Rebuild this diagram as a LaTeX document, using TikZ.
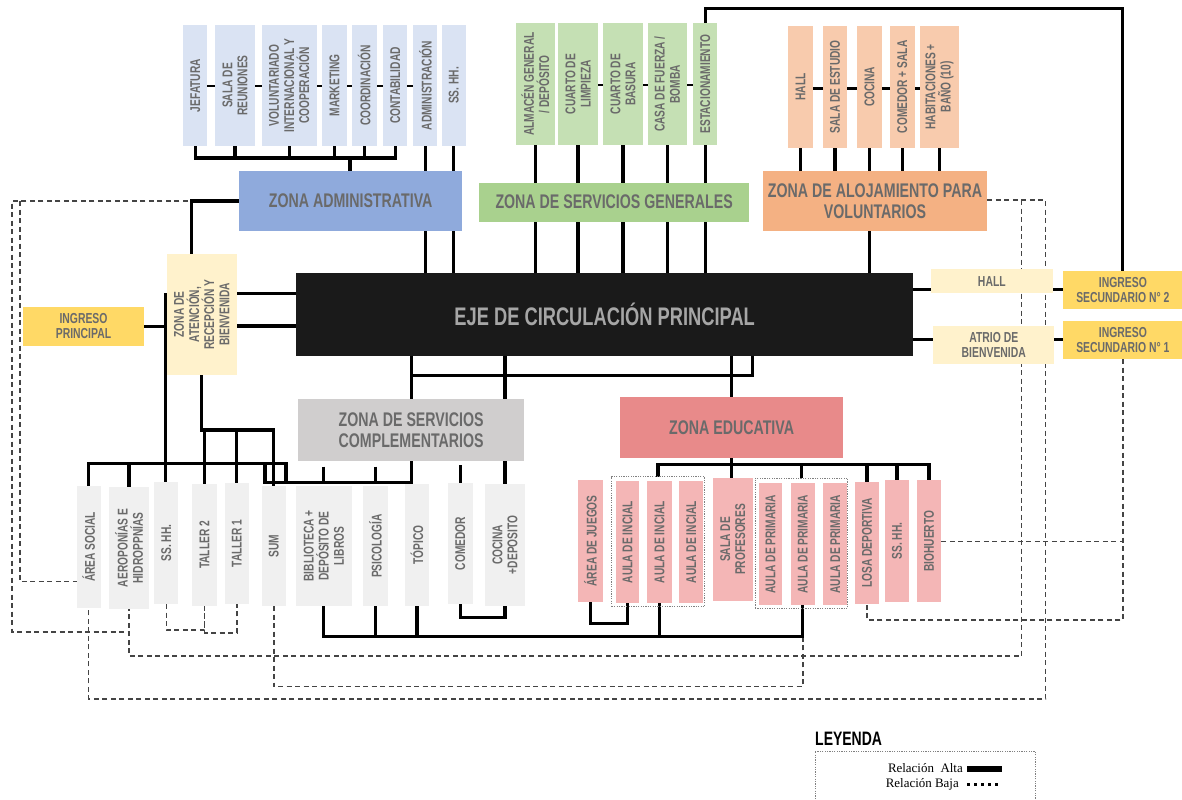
\documentclass[tikz,border=0pt]{standalone}
\usepackage{fontspec}
\setmainfont{Liberation Serif}
\newfontfamily\cond{Liberation Sans}[FakeStretch=0.72]
\usetikzlibrary{backgrounds}
\definecolor{admL}{HTML}{DAE3F3}
\definecolor{admZ}{HTML}{8FAADC}
\definecolor{srvL}{HTML}{C5E0B4}
\definecolor{srvZ}{HTML}{A9D18E}
\definecolor{aloL}{HTML}{F8CBAD}
\definecolor{aloZ}{HTML}{F4B183}
\definecolor{yelL}{HTML}{FFF2CC}
\definecolor{yelD}{HTML}{FFD966}
\definecolor{grZ}{HTML}{D0CECE}
\definecolor{grL}{HTML}{F0F0F0}
\definecolor{eduZ}{HTML}{E88A8A}
\definecolor{eduL}{HTML}{F4B6B6}
\definecolor{ejeC}{HTML}{1A1A1A}
\definecolor{ejeT}{HTML}{A6A6A6}
\definecolor{txtG}{HTML}{6A6A6A}
\definecolor{dashG}{HTML}{444444}
\newcommand\mkH[7]{%
 \pgfmathsetmacro\mkcx{(#3+#5)/2}%
 \pgfmathsetmacro\mkcy{(#4+#6)/2}%
 \pgfmathsetmacro\mkw{#5-#3}%
 \pgfmathsetmacro\mkh{#6-#4}%
 \node[#2,minimum width=\mkw bp,minimum height=\mkh bp] (#1) at (\mkcx,\mkcy) {#7};}
\newcommand\mkR[7]{%
 \pgfmathsetmacro\mkcx{(#3+#5)/2}%
 \pgfmathsetmacro\mkcy{(#4+#6)/2}%
 \pgfmathsetmacro\mkw{#5-#3}%
 \pgfmathsetmacro\mkh{#6-#4}%
 \node[#2,rotate=90,minimum width=\mkh bp,minimum height=\mkw bp] (#1) at (\mkcx,\mkcy) {#7};}
\tikzset{
 lab/.style={font=\cond\bfseries\fontsize{14.2}{15.2}\selectfont,text=txtG,align=center,inner sep=0pt,outer sep=0pt},
 zlab/.style={font=\cond\bfseries\fontsize{19.8}{21}\selectfont,text=txtG,align=center,inner sep=0pt,outer sep=0pt},
 mlab/.style={font=\cond\bfseries\fontsize{14.5}{15.5}\selectfont,text=txtG,align=center,inner sep=0pt,outer sep=0pt},
 rel/.style={line width=3.2bp,draw=black},
 tie/.style={line width=2.6bp,draw=black},
 low/.style={line width=1.3bp,draw=dashG,dash pattern=on 5bp off 3.5bp},
 grp/.style={draw=gray,line width=0.9bp,dash pattern=on 1.2bp off 1.2bp,inner sep=0pt,outer sep=0pt}
}
\begin{document}
\begin{tikzpicture}[x=1bp,y=-1bp]
\useasboundingbox (0,0) rectangle (1182,800);
% ---------- admin
\mkR{jef}{lab,fill=admL}{183.3}{25}{207.3}{146}{JEFATURA}
\mkR{sre}{lab,fill=admL}{215}{25}{255}{146}{SALA DE\\REUNIONES}
\mkR{vol}{lab,fill=admL}{261.7}{25}{316.7}{146}{VOLUNTARIADO\\INTERNACIONAL Y\\COOPERACIÓN}
\mkR{mkt}{lab,fill=admL}{322.3}{25}{346.7}{146}{MARKETING}
\mkR{coo}{lab,fill=admL}{351.7}{25}{376.7}{146}{COORDINACIÓN}
\mkR{con}{lab,fill=admL}{383.3}{25}{407.3}{146}{CONTABILIDAD}
\mkR{adm}{lab,fill=admL}{413.3}{25}{437.3}{146}{ADMINISTRACIÓN}
\mkR{ssa}{lab,fill=admL}{441.7}{25}{465.7}{146}{SS. HH.}
\mkH{zadm}{zlab,fill=admZ}{239}{171}{462.3}{231}{ZONA ADMINISTRATIVA}
% ---------- services
\mkR{alm}{lab,fill=srvL}{515.7}{23.3}{555}{145}{ALMACÉN GENERAL\\/ DEPÓSITO}
\mkR{lim}{lab,fill=srvL}{558.3}{23.3}{597.7}{145}{CUARTO DE\\LIMPIEZA}
\mkR{bas}{lab,fill=srvL}{603.3}{23.3}{642.7}{145}{CUARTO DE\\BASURA}
\mkR{fue}{lab,fill=srvL}{647.7}{23.3}{686.7}{145}{CASA DE FUERZA /\\BOMBA}
\mkR{est}{lab,fill=srvL}{693.3}{23.3}{717.3}{145}{ESTACIONAMIENTO}
\mkH{zsrv}{zlab,fill=srvZ}{479}{182.7}{749.3}{221.7}{ZONA DE SERVICIOS GENERALES}
% ---------- alojamiento
\mkR{hal}{lab,fill=aloL}{788.3}{26}{812.7}{147.7}{HALL}
\mkR{ses}{lab,fill=aloL}{822.7}{26}{847.3}{147.7}{SALA DE ESTUDIO}
\mkR{coc}{lab,fill=aloL}{857.3}{26}{881.7}{147.7}{COCINA}
\mkR{com}{lab,fill=aloL}{890}{26}{914.7}{147.7}{COMEDOR + SALA}
\mkR{hab}{lab,fill=aloL}{920}{26}{959}{147.7}{HABITACIONES +\\BAÑO (10)}
\mkH{zalo}{zlab,fill=aloZ}{762.7}{171}{987.3}{231}{ZONA DE ALOJAMIENTO PARA\\VOLUNTARIOS}
% ---------- middle
\mkR{att}{lab,fill=yelL}{166.7}{254}{236.7}{375}{ZONA DE\\ATENCIÓN,\\RECEPCIÓN Y\\BIENVENIDA}
\mkH{ingp}{mlab,fill=yelD}{22.7}{306.7}{144.3}{345.7}{INGRESO\\PRINCIPAL}
\mkH{eje}{zlab,fill=ejeC,text=ejeT,font=\cond\bfseries\fontsize{25.5}{27}\selectfont}{296}{273.3}{913.3}{356}{EJE DE CIRCULACIÓN PRINCIPAL}
\mkH{hall}{mlab,fill=yelL}{931}{269.3}{1052.7}{293.3}{HALL}
\mkH{atr}{mlab,fill=yelL}{933.3}{325.7}{1054.3}{364.3}{ATRIO DE\\BIENVENIDA}
\mkH{ing2}{mlab,fill=yelD}{1062.7}{270.7}{1183}{309.3}{INGRESO\\SECUNDARIO N° 2}
\mkH{ing1}{mlab,fill=yelD}{1062.7}{320.7}{1183}{359}{INGRESO\\SECUNDARIO N° 1}
\mkH{zcom}{zlab,fill=grZ}{298.3}{399.3}{524}{460.7}{ZONA DE SERVICIOS\\COMPLEMENTARIOS}
\mkH{zedu}{zlab,fill=eduZ}{620}{397.3}{843.3}{458.3}{ZONA EDUCATIVA}
% ---------- bottom left
\mkR{aso}{lab,fill=grL}{76.7}{486}{100.7}{607.7}{ÁREA SOCIAL}
\mkR{aer}{lab,fill=grL}{109}{487.3}{149}{608.7}{AEROPONÍAS E\\HIDROPPNÍAS}
\mkR{ssb}{lab,fill=grL}{154.3}{482.3}{178.3}{604}{SS. HH.}
\mkR{ta2}{lab,fill=grL}{192}{484.3}{216.7}{605.7}{TALLER 2}
\mkR{ta1}{lab,fill=grL}{224.7}{482.7}{249}{604}{TALLER 1}
\mkR{sum}{lab,fill=grL}{261.7}{486}{286}{606}{SUM}
\mkR{bib}{lab,fill=grL}{296}{486}{351.7}{606}{BIBLIOTECA +\\DEPÓSITO DE\\LIBROS}
\mkR{psi}{lab,fill=grL}{363.3}{486}{387.7}{606}{PSICOLOGÍA}
\mkR{top}{lab,fill=grL}{405}{484.3}{429}{606}{TÓPICO}
\mkR{cme}{lab,fill=grL}{447.7}{482.7}{472.7}{604.3}{COMEDOR}
\mkR{cde}{lab,fill=grL}{485}{483.7}{525}{606}{COCINA\\+DEPOSITO}
% ---------- educativa
\mkH{gin}{grp}{611.7}{476.7}{704.3}{606.7}{}
\mkH{gpr}{grp}{755}{478.3}{847.7}{608.3}{}
\mkR{jue}{lab,fill=eduL}{578.3}{480}{602.7}{601.7}{ÁREA DE JUEGOS}
\mkR{ai1}{lab,fill=eduL}{615.7}{481}{639.3}{603.3}{AULA DE INCIAL}
\mkR{ai2}{lab,fill=eduL}{647.3}{481}{671.7}{603.3}{AULA DE INCIAL}
\mkR{ai3}{lab,fill=eduL}{679.3}{481}{703.3}{603.3}{AULA DE INCIAL}
\mkR{spr}{lab,fill=eduL}{712.7}{478.3}{752.7}{600.7}{SALA DE\\PROFESORES}
\mkR{ap1}{lab,fill=eduL}{758.7}{483.3}{782.3}{605}{AULA DE PRIMARIA}
\mkR{ap2}{lab,fill=eduL}{790.7}{483.3}{815}{605}{AULA DE PRIMARIA}
\mkR{ap3}{lab,fill=eduL}{823.3}{483.3}{847.3}{605}{AULA DE PRIMARIA}
\mkR{los}{lab,fill=eduL}{855}{481.7}{879}{604}{LOSA DEPORTIVA}
\mkR{sse}{lab,fill=eduL}{885}{480}{909}{602.3}{SS. HH.}
\mkR{bio}{lab,fill=eduL}{916.7}{480}{941.3}{602.3}{BIOHUERTO}
% ---------- legend
\node[font=\cond\bfseries\fontsize{19.5}{20}\selectfont,text=black,anchor=north west,inner sep=0pt] (ley) at (815,731.7) {LEYENDA};
\node[grp,anchor=north west,minimum width=220bp,minimum height=70bp] (lfr) at (815,751) {};
\node[font=\fontsize{13}{14}\selectfont,anchor=base east,inner sep=0pt] (lt1) at (963,772.5) {Relación\ \ Alta};
\node[font=\fontsize{13}{14}\selectfont,anchor=base east,inner sep=0pt] (lt2) at (959,787) {Relación Baja};
\node[fill=black,inner sep=0pt,minimum width=35bp,minimum height=6bp,anchor=west] (lb1) at (967,768.5) {};
\coordinate (lb2) at (967,784.5);
\draw[line width=3bp,dash pattern=on 3bp off 4bp] (lb2) -- ++(34,0);
% ---------- connectors
\begin{scope}[on background layer]
\fill[white] (0,0) rectangle (1182,800);
\coordinate (ab) at (350,158);
\coordinate (ty) at (0,86); \coordinate (sy) at (0,85); \coordinate (ay) at (0,88.3);
\coordinate (e1) at (0,293.3); \coordinate (e2) at (0,326);
\coordinate (tb) at (0,430);
\coordinate (b1) at (0,463.3); \coordinate (b1m) at (265,463.3); \coordinate (b1r) at (286,463.3);
\coordinate (b2) at (0,482.3); \coordinate (zc1) at (411.7,0);
\coordinate (tk) at (0,466.7); \coordinate (tk2) at (0,465);
\coordinate (b3) at (0,375.7); \coordinate (b3r) at (752.3,375.7);
\coordinate (b4) at (0,636.7); \coordinate (b5) at (0,617.7); \coordinate (b6) at (0,623.3);
\coordinate (b7) at (0,464.5);
\coordinate (r1) at (0,289.3); \coordinate (r2) at (0,339.3);
\coordinate (d0) at (0,200);
\coordinate (dL1) at (12,0); \coordinate (dL2) at (20,0);
\coordinate (dR1) at (1021.7,0); \coordinate (dR2) at (1045.7,0);
\coordinate (dy1) at (0,632); \coordinate (dy2) at (0,581.7);
\coordinate (dy3) at (0,656); \coordinate (dy4) at (0,699);
\coordinate (dy5) at (0,630); \coordinate (dy6) at (0,633);
\coordinate (dy7) at (0,686.7); \coordinate (dy8) at (0,620);
% low relations
\draw[low] (zadm.west) -- (dL1 |- zadm.west) -- (dL1 |- dy1) -- (aer.west |- dy1);
\draw[low] (dL2 |- zadm.west) -- (dL2 |- dy2) -- (aso.north |- dy2);
\draw[low] (zalo.east |- d0) -- (dR2 |- d0) -- (dR2 |- dy4) -- (aso.west |- dy4) -- (aso.west);
\draw[low] (dR1 |- d0) -- (dR1 |- dy3) -- (aer.west |- dy3) -- (aer.west);
\draw[low] (ssb.west) -- (ssb.west |- dy5) -- (ta2.west |- dy5) -- (ta2.west);
\draw[low] (ta2.west) -- (ta2.west |- dy6) -- (ta1.west |- dy6) -- (ta1.west);
\draw[low] (sum.west) -- (sum.west |- dy7) -- (ap2.west |- dy7) -- (ap2.west);
\draw[low] (ing1.south) -- (ing1.south |- dy8) -- (los.west |- dy8) -- (los.west);
\draw[low] (bio.south) -- (bio.south -| ing1.south);
% ties between top boxes
\draw[tie] (jef.center |- ty) -- (adm.center |- ty);
\draw[tie] (lim.center |- sy) -- (est.center |- sy);
\draw[tie] (hal.center |- ay) -- (hab.center |- ay);
% admin
\draw[rel] (jef.west) -- (jef.west |- ab) -- (con.west |- ab) -- (con.west);
\foreach \n in {sre,vol,mkt,coo} \draw[rel] (\n.west) -- (\n.west |- ab);
\draw[rel] (ab) -- (ab |- zadm.north);
\draw[rel] (adm.west) -- (adm.west |- eje.north);
\draw[rel] (ssa.west) -- (ssa.west |- eje.north);
% services
\foreach \n in {alm,lim,bas,fue,est} \draw[rel] (\n.west) -- (\n.west |- eje.north);
\draw[rel] (est.east) -- ++(0,-15) -| (ing2.north);
% alojamiento
\foreach \n in {hal,ses,coc,com,hab} \draw[rel] (\n.west) -- (\n.west |- zalo.north);
\draw[rel] (coc.west |- zalo.south) -- (coc.west |- eje.north);
% attention
\draw[rel] (zadm.west) -| ([xshift=-10bp]att.east);
\draw[rel] (ingp.east) -- (ingp.east -| att.north);
\draw[rel] (att.south |- e1) -- (eje.west |- e1);
\draw[rel] (att.south |- e2) -- (eje.west |- e2);
\draw[rel] ([xshift=-1bp]ssb.east |- e1) -- ([xshift=-1bp]ssb.east);
\draw[rel] (att.west) -- (att.west |- tb) -- (sum.east |- tb) -- (sum.east);
\draw[rel] (ta2.east |- tb) -- (ta2.east);
\draw[rel] (ta1.east |- tb) -- (ta1.east);
% bus 1 / bus 2
\draw[rel] (aso.east) -- (aso.east |- b1) -- (b1r) -- (b1r |- b2);
\draw[rel] (aer.east |- b1) -- (aer.east);
\draw[rel] (b1m) -- (b1m |- b2) -- (zc1 |- b2) -- (zc1 |- zcom.south);
\draw[rel] (bib.east |- tk) -- (bib.east |- b2);
\draw[rel] (psi.east |- tk) -- (psi.east |- b2);
\draw[rel] (zc1 |- eje.south) -- (zc1 |- zcom.north);
\draw[rel] (cde.east |- eje.south) -- (cde.east |- zcom.north);
\draw[rel] (cde.east |- zcom.south) -- (cde.east);
\draw[rel] (cme.east |- tk2) -- (cme.east);
% eje -> bottom zones
\draw[rel] (zc1 |- b3) -- (b3r) -- (b3r |- eje.south);
\draw[rel] (zedu.north |- eje.south) -- (zedu.north);
% bottom bus
\draw[rel] (bib.west) -- (bib.west |- b4) -- (ap2.west |- b4) -- (ap2.west);
\foreach \n in {psi,top,ai2} \draw[rel] (\n.west) -- (\n.west |- b4);
\draw[rel] (cme.west) -- (cme.west |- b5) -- (cde.west |- b5) -- (cde.west);
\draw[rel] (jue.west) -- (jue.west |- b6) -- (ai1.west |- b6) -- (ai1.west);
% educativa
\draw[rel] (zedu.south) -- (zedu.south |- spr.east);
\draw[rel] (gin.north) -- (gin.north |- b7) -- (bio.east |- b7) -- (bio.east);
\draw[rel] (gpr.north) -- (gpr.north |- b7);
\foreach \n in {los,sse} \draw[rel] (\n.east |- b7) -- (\n.east);
% right side
\draw[rel] (eje.east |- r1) -- (hall.west |- r1);
\draw[rel] (hall.east |- r1) -- (ing2.west |- r1);
\draw[rel] (eje.east |- r2) -- (atr.west |- r2);
\draw[rel] (atr.east |- r2) -- (ing1.west |- r2);
\end{scope}
\end{tikzpicture}
\end{document}
